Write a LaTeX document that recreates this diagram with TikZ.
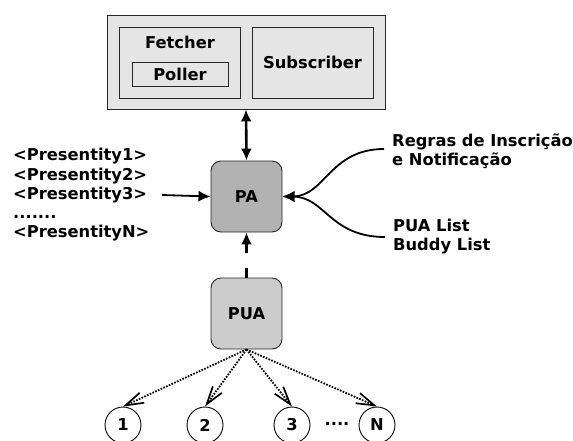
\documentclass[tikz,border=0pt]{standalone}
\usepackage{fontspec}
\setmainfont{DejaVu Sans}
\usetikzlibrary{arrows.meta}
\begin{document}
\begin{tikzpicture}[x=1pt,y=-1pt,
  lbl/.style={font=\fontsize{16.3}{19.25}\selectfont\bfseries},
  panel/.style={draw=black!85,line width=0.9pt,fill=black!10},
  core/.style={draw=black!85,line width=0.9pt,rounded corners=10pt,minimum width=71pt,minimum height=71pt,lbl},
  item/.style={circle,draw,line width=0.9pt,minimum size=36pt,inner sep=0pt,lbl},
  solidtip/.style={-{Latex[length=12pt,width=11pt]}},
  opentip/.style={-{Straight Barb[length=18pt,width=11pt,line width=1.7pt]}}
]
\useasboundingbox (0,0) rectangle (573,440);

% client container with its two components
\node[panel,minimum width=278pt,minimum height=94pt] (client) at (246,62) {};
\node[panel,minimum width=121pt,minimum height=71pt] (fetcher) at (179.5,62.5) {};
\node[panel,minimum width=96pt,minimum height=24pt] (poller) at (180,74) {};
\node[lbl] (fetchlbl) at (180,42) {Fetcher};
\node[lbl] (pollerlbl) at (180,74) {Poller};
\node[panel,minimum width=121pt,minimum height=71pt,lbl] (subscriber) at (312.5,62.5) {Subscriber};

% presence agent and user agent
\node[core,fill=black!30] (PA) at (246.5,196.5) {PA};
\node[core,fill=black!20] (PUA) at (246.5,313.5) {PUA};

% inputs
\node[lbl,align=left,anchor=west,inner sep=0pt] (ents) at (13,195)
  {<Presentity1>\\<Presentity2>\\<Presentity3>\\.......\\<PresentityN>};
\node[lbl,align=left,anchor=west,inner sep=0pt] (rules) at (392,151)
  {Regras de Inscrição\\e Notificação};
\node[lbl,align=left,anchor=west,inner sep=0pt] (lists) at (393,236.5)
  {PUA List\\Buddy List};
\coordinate (rin) at (384,149);
\coordinate (lin) at (385,237);

% watched presentities
\node[item] (c1) at (123,425) {1};
\node[item] (c2) at (205,425) {2};
\node[item] (c3) at (292,425) {3};
\node[item] (cN) at (377,425) {N};
\node[lbl] (dots) at (337,424) {....};

% connectors
\draw[line width=2.6pt,{Latex[length=12pt,width=11pt]}-{Latex[length=12pt,width=11pt]}] (client.south) -- (PA.north);
\draw[line width=1.8pt,solidtip] (162,195) -- (PA.west);
\draw[line width=1.8pt,solidtip] (rin) .. controls (330,149) and (325,196) .. (PA.east);
\draw[line width=1.8pt,solidtip] (lin) .. controls (330,237) and (325,197) .. (PA.east);
\draw[line width=2.4pt,dash pattern=on 10pt off 15pt,solidtip] (PUA.north) -- (PA.south);
\foreach \c in {c1,c2,c3,cN}
  \draw[line width=1.8pt,dash pattern=on 1.6pt off 1.4pt,opentip] (PUA.south) -- (\c.north);
\end{tikzpicture}
\end{document}
